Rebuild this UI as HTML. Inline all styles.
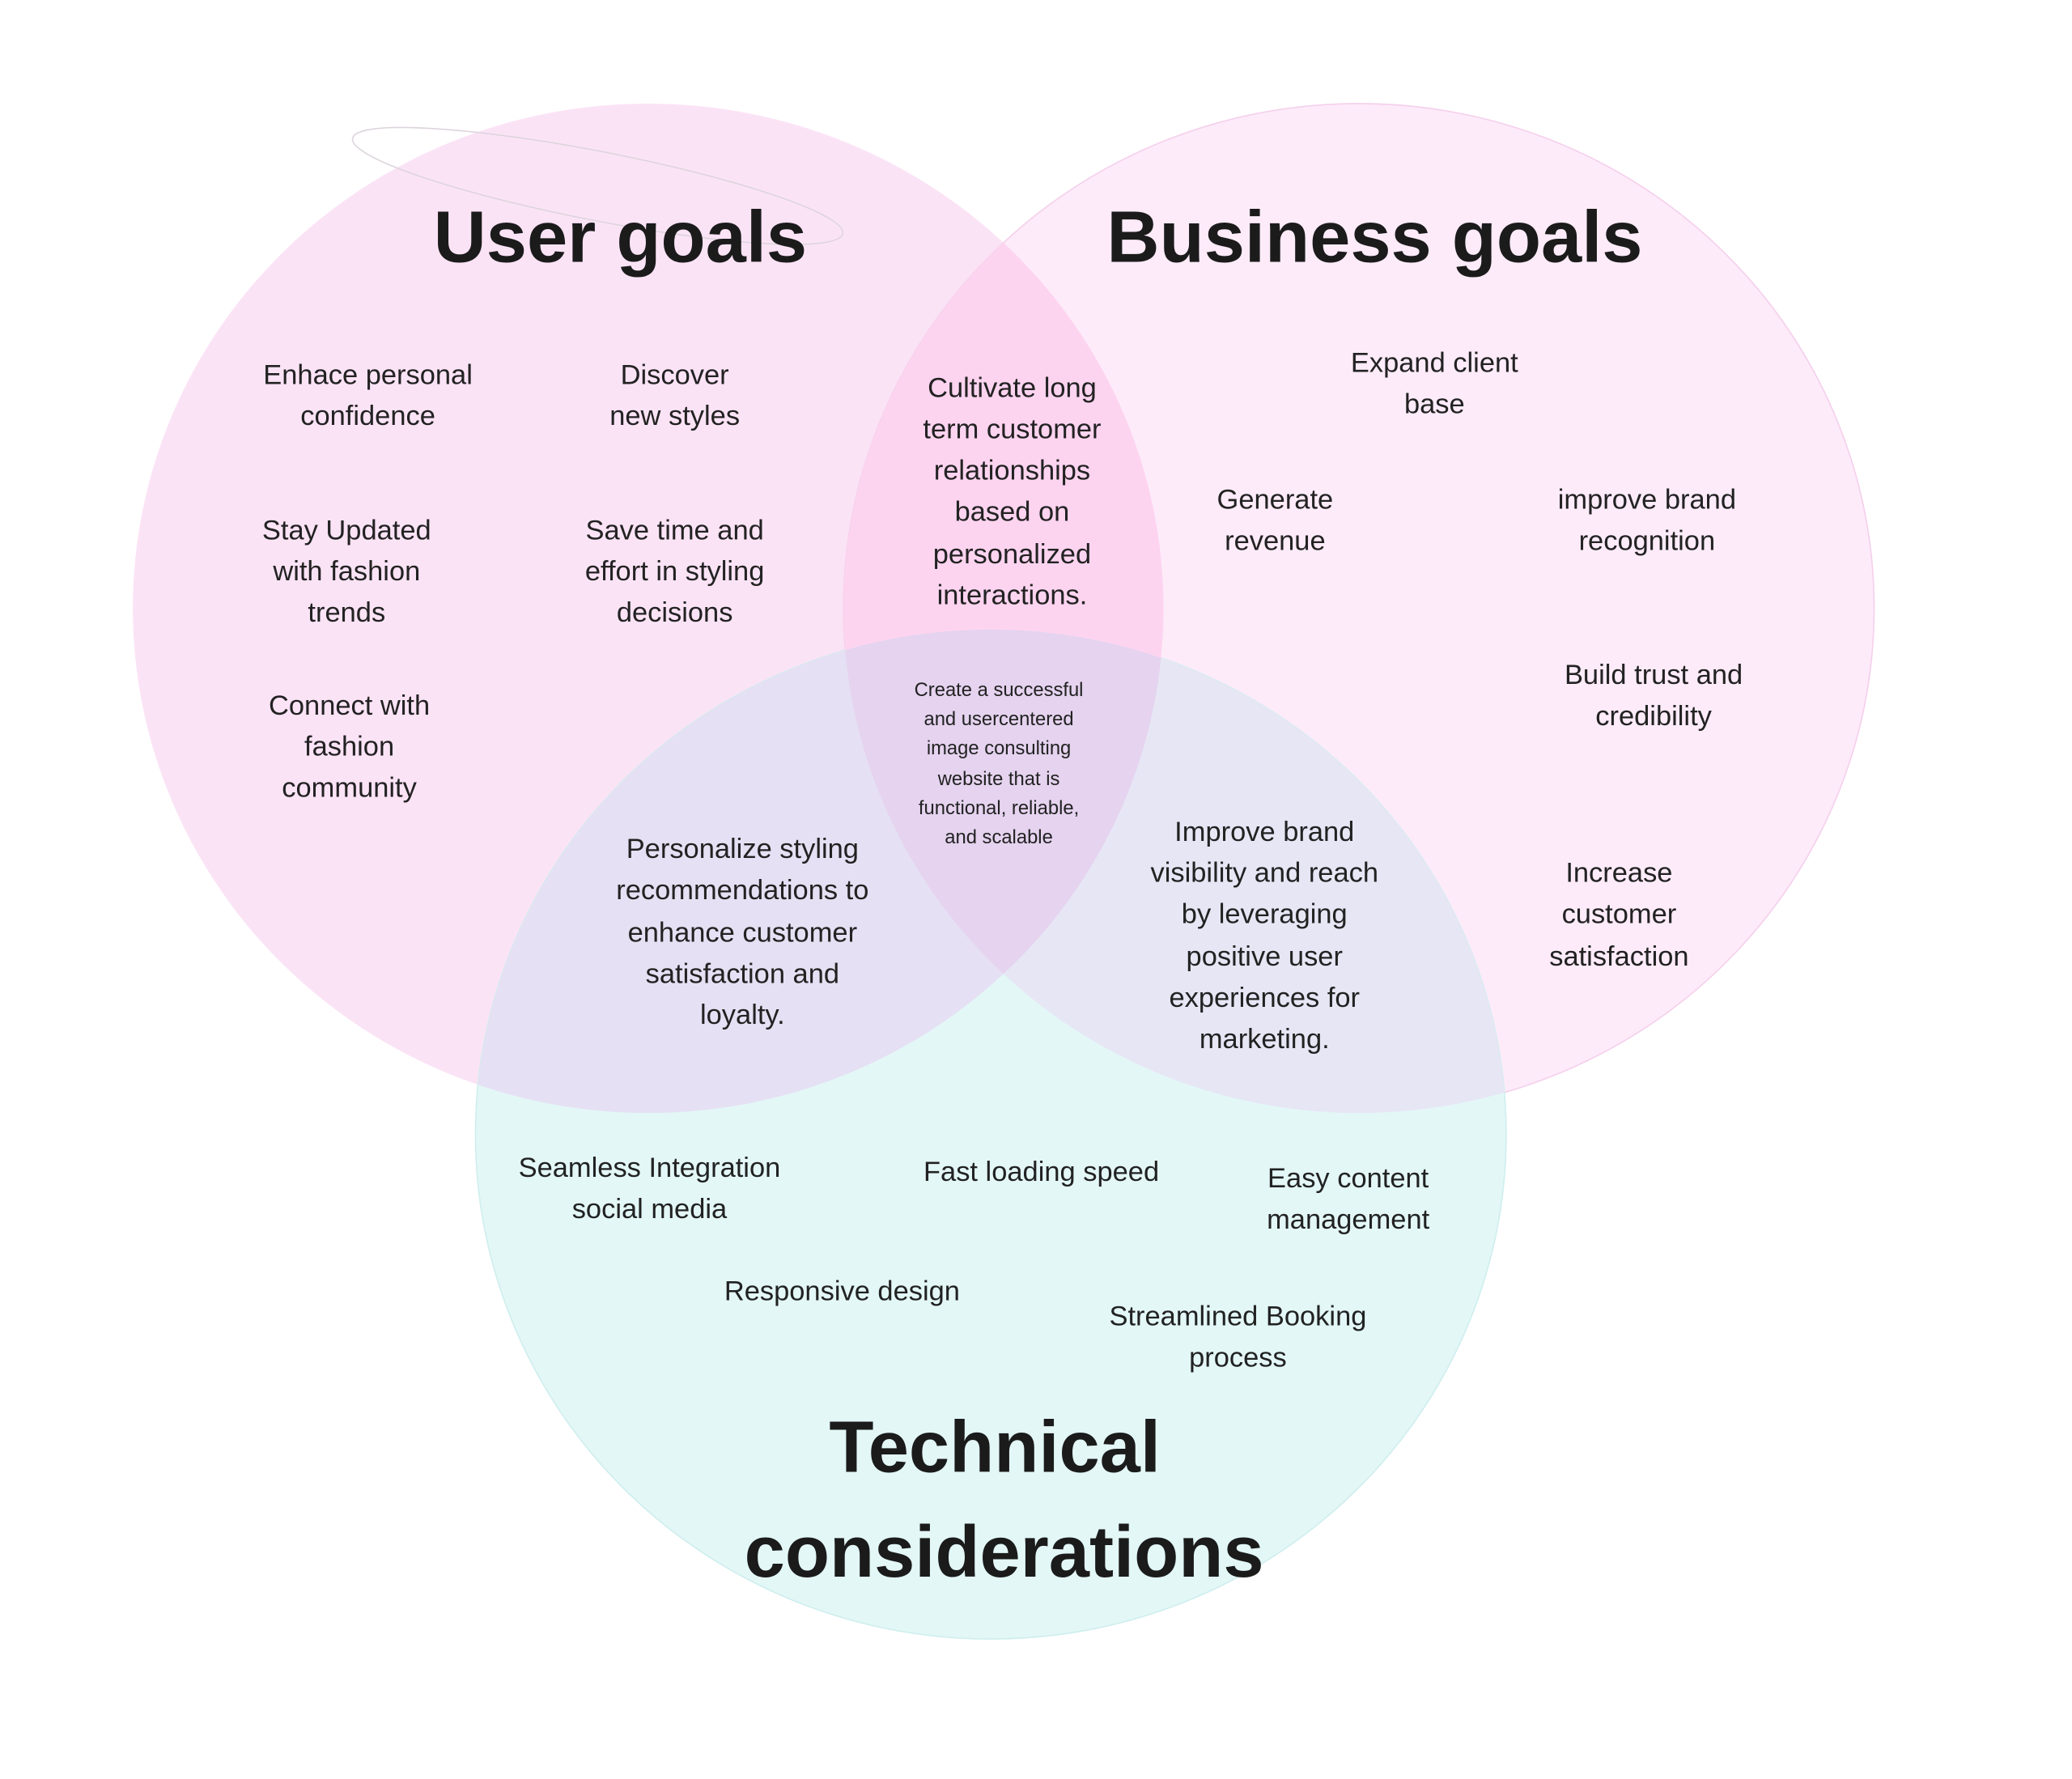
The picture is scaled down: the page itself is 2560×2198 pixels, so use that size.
<!DOCTYPE html>
<html><head><meta charset="utf-8"><style>
html,body{margin:0;padding:0;background:#fff;width:2560px;height:2198px;overflow:hidden}
svg{display:block}
text{font-family:"Liberation Sans",sans-serif;fill:#222;text-anchor:middle}
.b{font-size:21px}
.t{font-size:55px;font-weight:bold;fill:#1b1b1b}
.s{font-size:14.5px}
</style></head><body>
<svg width="2560" height="2198" viewBox="0 0 1560 1339.4" xmlns="http://www.w3.org/2000/svg">
<defs>
<clipPath id="cu"><ellipse cx="488" cy="458" rx="388" ry="380"/></clipPath>
<clipPath id="cb"><ellipse cx="1023" cy="458" rx="388" ry="380"/></clipPath>
</defs>
<ellipse cx="488" cy="458" rx="388" ry="380" fill="#fbe3f6"/>
<ellipse cx="1023" cy="458" rx="388" ry="380" fill="#fdebf9" stroke="#f5d0ec" stroke-width="1"/>
<ellipse cx="746" cy="854" rx="388" ry="380" fill="#e3f7f7" stroke="#d0eeee" stroke-width="1"/>
<g clip-path="url(#cu)"><ellipse cx="1023" cy="458" rx="388" ry="380" fill="#fdd4f0"/></g>
<g clip-path="url(#cu)"><ellipse cx="746" cy="854" rx="388" ry="380" fill="#e5e0f3"/></g>
<g clip-path="url(#cb)"><ellipse cx="746" cy="854" rx="388" ry="380" fill="#e7e6f5"/></g>
<g clip-path="url(#cu)"><g clip-path="url(#cb)"><ellipse cx="746" cy="854" rx="388" ry="380" fill="#e5d3ef"/></g></g>
<ellipse cx="450" cy="140" rx="188" ry="26" transform="rotate(11 450 140)" fill="none" stroke="#ddd5dd" stroke-width="1"/>

<text class="t" x="467" y="197">User goals</text>
<text class="t" x="1035" y="197">Business goals</text>
<text class="t" x="749" y="1108">Technical</text>
<text class="t" x="756" y="1187">considerations</text>

<g class="b">
<text x="277" y="289">Enhace personal</text><text x="277" y="320">confidence</text>
<text x="508" y="289">Discover</text><text x="508" y="320">new styles</text>
<text x="261" y="406">Stay Updated</text><text x="261" y="437">with fashion</text><text x="261" y="468">trends</text>
<text x="508" y="406">Save time and</text><text x="508" y="437">effort in styling</text><text x="508" y="468">decisions</text>
<text x="263" y="538">Connect with</text><text x="263" y="569">fashion</text><text x="263" y="600">community</text>
<text x="762" y="299">Cultivate long</text><text x="762" y="330">term customer</text><text x="762" y="361">relationships</text><text x="762" y="392">based on</text><text x="762" y="424">personalized</text><text x="762" y="455">interactions.</text>
<text x="1080" y="280">Expand client</text><text x="1080" y="311">base</text>
<text x="960" y="383">Generate</text><text x="960" y="414">revenue</text>
<text x="1240" y="383">improve brand</text><text x="1240" y="414">recognition</text>
<text x="1245" y="515">Build trust and</text><text x="1245" y="546">credibility</text>
<text x="1219" y="664">Increase</text><text x="1219" y="695">customer</text><text x="1219" y="727">satisfaction</text>
<text x="559" y="646">Personalize styling</text><text x="559" y="677">recommendations to</text><text x="559" y="709">enhance customer</text><text x="559" y="740">satisfaction and</text><text x="559" y="771">loyalty.</text>
<text x="952" y="633">Improve brand</text><text x="952" y="664">visibility and reach</text><text x="952" y="695">by leveraging</text><text x="952" y="727">positive user</text><text x="952" y="758">experiences for</text><text x="952" y="789">marketing.</text>
<text x="489" y="886">Seamless Integration</text><text x="489" y="917">social media</text>
<text x="784" y="889">Fast loading speed</text>
<text x="1015" y="894">Easy content</text><text x="1015" y="925">management</text>
<text x="634" y="979">Responsive design</text>
<text x="932" y="998">Streamlined Booking</text><text x="932" y="1029">process</text>
</g>
<g class="s">
<text x="752" y="524">Create a successful</text>
<text x="752" y="546">and usercentered</text>
<text x="752" y="568">image consulting</text>
<text x="752" y="591">website that is</text>
<text x="752" y="613">functional, reliable,</text>
<text x="752" y="635">and scalable</text>
</g>
</svg>
</body></html>
